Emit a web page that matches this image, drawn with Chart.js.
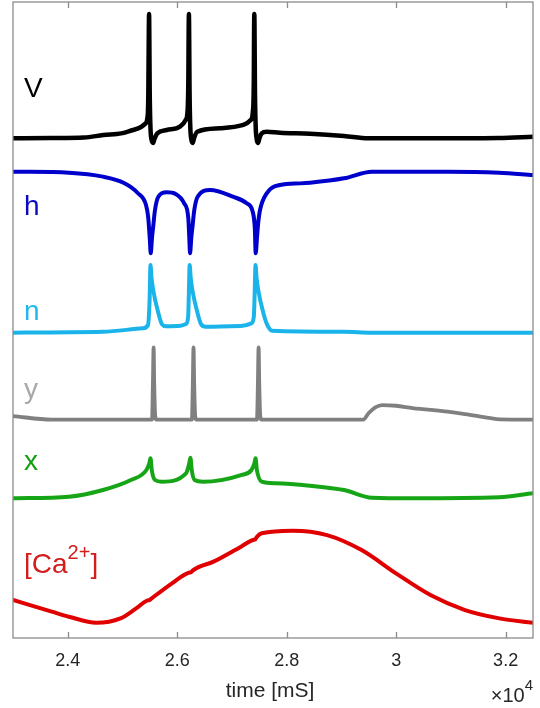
<!DOCTYPE html>
<html>
<head>
<meta charset="utf-8">
<script src="https://cdn.jsdelivr.net/npm/chart.js@4.4.1/dist/chart.umd.min.js"></script>
<style>
  html, body { margin: 0; padding: 0; background: #fff; }
  canvas { display: block; }
</style>
</head>
<body>
<canvas id="traces" width="540" height="708"></canvas>
<script>
// time axis ticks (ms), shown as multiples of 10^4
var xTicks = [24000, 26000, 28000, 30000, 32000];
var xTickLabels = ['2.4', '2.6', '2.8', '3', '3.2'];

// membrane potential V (mV)
var vTime  = [23000, 23700, 24300, 24650, 24980, 25160, 25340, 25410, 25455, 25472, 25480, 25486, 25491, 25497, 25510, 25530, 25560, 25585, 25636,
              25808, 26051, 26155, 26190, 26204, 26209, 26214, 26219, 26225, 26238, 26258, 26283, 26310, 26367,
              26782, 27208, 27343, 27385, 27400, 27404, 27409, 27414, 27420, 27433, 27453, 27476, 27505, 27544, 27635,
              27878, 28426, 29047, 29495, 30942, 31879, 32500];
var vValue = [-70.5, -70.3, -69.9, -67.8, -66.5, -64.2, -61.4, -58.9, -54.0, -35, 10, 30.3, 10, -30, -60, -71.5, -74.3, -71, -66.5,
              -63.8, -61.1, -55.7, -47.6, -20, 15, 30.3, 10, -30, -60, -71.5, -74.3, -70, -65.2,
              -62.4, -59.7, -55.7, -47.6, -20, 15, 30.3, 10, -30, -60, -71.5, -74.3, -70, -66.5, -65.2,
              -66.0, -66.8, -68.6, -70.5, -70.5, -70.3, -69.2];

// gate h
var hTime  = [23000, 24021, 24644, 25028, 25278, 25430, 25470, 25500, 25516, 25540, 25561, 25594, 25655, 25808, 25971, 26127, 26203, 26222, 26234,
              26258, 26279, 26312, 26373, 26599, 27019, 27269, 27379, 27418, 27434, 27458, 27480, 27513, 27635, 27878, 28243, 28426,
              29047, 29559, 30942, 31879, 32500];
var hValue = [0.806, 0.797, 0.762, 0.705, 0.616, 0.509, 0.40, 0.2, 0.078, 0.22, 0.315, 0.464, 0.583, 0.622, 0.607, 0.524, 0.39, 0.2, 0.078,
              0.22, 0.315, 0.464, 0.583, 0.643, 0.583, 0.524, 0.449, 0.3, 0.078, 0.22, 0.35, 0.464, 0.613, 0.6875, 0.702, 0.708,
              0.747, 0.806, 0.806, 0.797, 0.777];

// gate n
var nTime  = [23000, 24644, 25375, 25466, 25495, 25512, 25530, 25561, 25656, 25722, 25800, 26033, 26161, 26200, 26213, 26228, 26246, 26277,
              26372, 26438, 26520, 27166, 27356, 27400, 27415, 27431, 27449, 27480, 27575, 27641, 27732, 29047, 29559, 32500];
var nValue = [0.094, 0.106, 0.15, 0.192, 0.5, 0.962, 0.8, 0.641, 0.342, 0.2, 0.175, 0.179, 0.205, 0.3, 0.6, 0.962, 0.8, 0.641,
              0.342, 0.2, 0.17, 0.179, 0.214, 0.3, 0.6, 0.962, 0.8, 0.641, 0.342, 0.2, 0.119, 0.106, 0.094, 0.094];

// gate y
var yTime  = [23000, 23707, 25540, 25556, 25569, 25580, 25597, 25617, 26268, 26285, 26298, 26310, 26327, 26347,
              27457, 27474, 27487, 27499, 27516, 27536, 29400, 29495, 29619, 29745, 29997, 30300, 30942, 31258, 31697, 31900, 32500];
var yValue = [0.136, 0.095, 0.095, 0.5, 0.917, 0.5, 0.15, 0.095, 0.095, 0.5, 0.917, 0.5, 0.15, 0.095,
              0.095, 0.5, 0.917, 0.5, 0.15, 0.095, 0.095, 0.167, 0.235, 0.261, 0.253, 0.227, 0.185, 0.159, 0.114, 0.098, 0.095];

// gate x
var xTime  = [23000, 24021, 24644, 25154, 25437, 25490, 25512, 25535, 25594, 25719, 26161, 26220, 26241, 26265, 26318, 26471,
              27166, 27356, 27410, 27431, 27455, 27544, 27796, 28426, 29047, 29559, 30308, 31879, 32500];
var xValue = [0.163, 0.182, 0.262, 0.381, 0.5, 0.58, 0.639, 0.5, 0.381, 0.361, 0.461, 0.58, 0.646, 0.5, 0.381, 0.361,
              0.44, 0.5, 0.58, 0.639, 0.5, 0.361, 0.342, 0.313, 0.262, 0.17, 0.163, 0.175, 0.223];

// calcium concentration
var caTime  = [23000, 23707, 24021, 24524, 24964, 25250, 25460, 25490, 25520, 25905, 26225, 26255, 26280, 26663, 27166,
               27400, 27425, 27450, 27544, 28110, 28737, 29369, 29997, 30626, 31258, 31885, 32500];
var caValue = [0.302, 0.209, 0.169, 0.121, 0.156, 0.235, 0.298, 0.300, 0.31, 0.434, 0.52, 0.522, 0.535, 0.606, 0.725,
               0.78, 0.782, 0.80, 0.831, 0.852, 0.817, 0.698, 0.513, 0.341, 0.222, 0.156, 0.121];

var FONT = '"Liberation Sans", Arial, Helvetica, sans-serif';

// one stacked band per trace, top to bottom
var traces = [
  { axis: 'yV',  name: 'V', time: vTime,  value: vValue,  color: '#000000', labelColor: '#000000', width: 4.5, min: -80, max: 40, band: 148, at: 0.358 },
  { axis: 'yH',  name: 'h', time: hTime,  value: hValue,  color: '#0000cc', labelColor: '#0a0ac4', width: 4,   min: 0,   max: 1,  band: 112, at: 0.42 },
  { axis: 'yN',  name: 'n', time: nTime,  value: nValue,  color: '#1ab4ea', labelColor: '#22b8ee', width: 4,   min: 0,   max: 1,  band: 78,  at: 0.256 },
  { axis: 'yY',  name: 'y', time: yTime,  value: yValue,  color: '#808080', labelColor: '#a8a8a8', width: 3.8, min: 0,   max: 1,  band: 88,  at: 0.341 },
  { axis: 'yX',  name: 'x', time: xTime,  value: xValue,  color: '#16a516', labelColor: '#12a012', width: 4,   min: 0,   max: 1,  band: 84,  at: 0.5 },
  { axis: 'yCa', name: '[Ca', sup: '2+', tail: ']', time: caTime, value: caValue, color: '#e00000', labelColor: '#d41c1c', width: 4, min: 0, max: 1, band: 126, at: 0.516 }
];

function points(ts, vs) {
  return ts.map(function (t, i) { return { x: t, y: vs[i] }; });
}

var scales = {
  x: {
    type: 'linear', position: 'bottom', min: 23000, max: 32500,
    grid: { display: false, drawTicks: false }, border: { display: false },
    afterBuildTicks: function (s) { s.ticks = xTicks.map(function (v) { return { value: v }; }); },
    afterFit: function (s) { s.height = 70; },
    ticks: {
      padding: 12, color: '#262626', font: { family: FONT, size: 18 },
      callback: function (v, i) { return xTickLabels[i]; }
    }
  }
};
traces.forEach(function (tr, i) {
  scales[tr.axis] = {
    type: 'linear', display: false, position: 'left',
    stack: 'traces', stackWeight: tr.band, weight: traces.length - i,
    min: tr.min, max: tr.max
  };
});

var datasets = traces.map(function (tr) {
  return {
    label: tr.name, yAxisID: tr.axis, data: points(tr.time, tr.value),
    borderColor: tr.color, borderWidth: tr.width, pointRadius: 0,
    cubicInterpolationMode: 'monotone', borderJoinStyle: 'round', borderCapStyle: 'round'
  };
});

// box with inward ticks, trace names, axis title and exponent
var decor = {
  id: 'decor',
  afterDraw: function (chart) {
    var ctx = chart.ctx, a = chart.chartArea, xs = chart.scales.x;
    ctx.save();
    ctx.strokeStyle = '#8c8c8c';
    ctx.lineWidth = 1.3;
    ctx.strokeRect(a.left, a.top, a.right - a.left, a.bottom - a.top);
    ctx.beginPath();
    xTicks.forEach(function (t) {
      var px = Math.round(xs.getPixelForValue(t)) + 0.5;
      ctx.moveTo(px, a.bottom); ctx.lineTo(px, a.bottom - 6);
      ctx.moveTo(px, a.top); ctx.lineTo(px, a.top + 6);
    });
    ctx.stroke();

    ctx.textBaseline = 'alphabetic';
    ctx.textAlign = 'left';
    traces.forEach(function (tr) {
      var sc = chart.scales[tr.axis];
      var y = sc.bottom - tr.at * (sc.bottom - sc.top);
      var x = a.left + 11;
      ctx.fillStyle = tr.labelColor;
      ctx.font = '28px ' + FONT;
      ctx.fillText(tr.name, x, y);
      if (tr.sup) {
        x += ctx.measureText(tr.name).width;
        ctx.font = '20px ' + FONT;
        ctx.fillText(tr.sup, x, y - 14);
        x += ctx.measureText(tr.sup).width;
        ctx.font = '28px ' + FONT;
        ctx.fillText(tr.tail, x, y);
      }
    });

    ctx.fillStyle = '#262626';
    ctx.font = '21px ' + FONT;
    ctx.textAlign = 'center';
    ctx.fillText('time [mS]', (a.left + a.right) / 2 - 3, 697);

    ctx.textAlign = 'right';
    ctx.font = '15px ' + FONT;
    var w4 = ctx.measureText('4').width;
    ctx.fillText('4', a.right, 690);
    ctx.font = '20px ' + FONT;
    ctx.fillText('\u00d710', a.right - w4, 702);
    ctx.restore();
  }
};

new Chart(document.getElementById('traces'), {
  type: 'line',
  data: { datasets: datasets },
  options: {
    responsive: false, animation: false,
    layout: { padding: { left: 13, right: 7, top: 2, bottom: 0 } },
    plugins: { legend: { display: false }, tooltip: { enabled: false } },
    scales: scales
  },
  plugins: [decor]
});
</script>
</body>
</html>
